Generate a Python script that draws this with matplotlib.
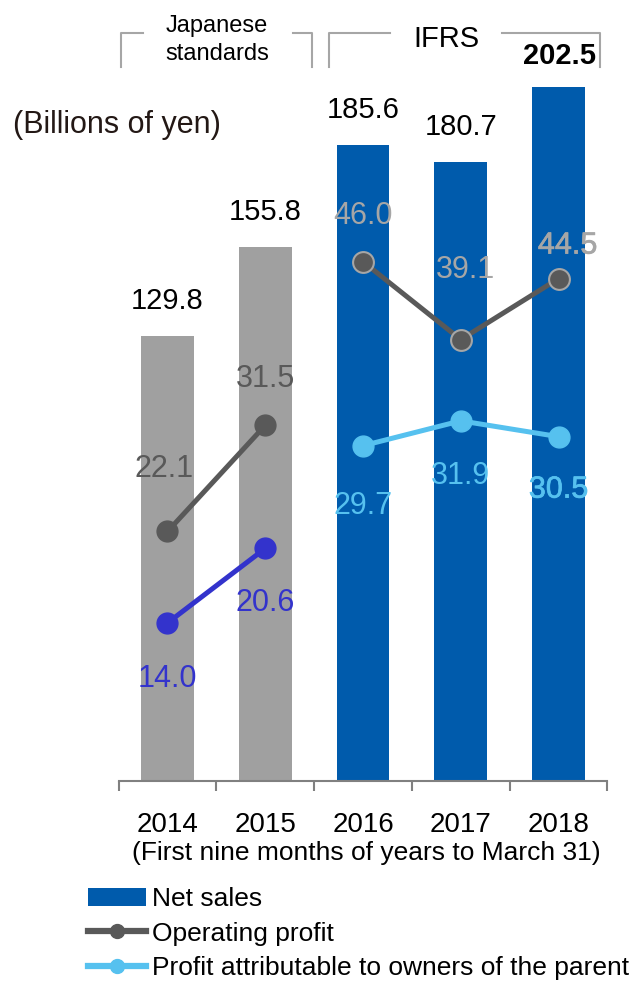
import matplotlib
matplotlib.use('Agg')
import matplotlib.pyplot as plt
import matplotlib.patheffects as pe
from matplotlib.lines import Line2D
from matplotlib.patches import Patch

plt.rcParams['font.family'] = ['Liberation Sans', 'DejaVu Sans']

# Data (billions of yen, first nine months of years to March 31)
years = ['2014', '2015', '2016', '2017', '2018']
net_sales = [129.8, 155.8, 185.6, 180.7, 202.5]
op_profit = [22.1, 31.5, 46.0, 39.1, 44.5]
profit_parent = [14.0, 20.6, 29.7, 31.9, 30.5]

# Colours
gray_bar = '#A0A0A0'
blue_bar = '#005BAC'
op_dark = '#595959'
op_light = '#A6A6A6'
pp_dark = '#3333CC'
pp_light = '#56C1EF'

W, H = 634, 981
fig = plt.figure(figsize=(W / 100, H / 100), dpi=100)

def fx(px):
    return px / W

def fy(py):
    return 1 - py / H

ax = fig.add_axes([fx(118.6), fy(781), 488.8 / W, 781 / H])
ax2 = ax.twinx()
ax.set_xlim(-0.5, 4.5)
ax.set_ylim(0, 781 / 3.427)
ax2.set_ylim(0, 781 / 11.29)

x = list(range(len(years)))
bar_colors = [gray_bar, gray_bar, blue_bar, blue_bar, blue_bar]
ax.bar(x, net_sales, width=0.54, color=bar_colors, zorder=2)

# Net sales labels
for i, v in enumerate(net_sales):
    bold = (i == 4)
    ax.annotate(f'{v:.1f}', (i, v), xytext=(1 if bold else 0, 23 if bold else 27),
                textcoords='offset pixels', ha='center', va='baseline',
                fontsize=21, color='black',
                fontweight='bold' if bold else 'normal')

# Operating profit (Japanese standards / IFRS as separate segments)
ax2.plot(x[:2], op_profit[:2], color=op_dark, lw=3.6, marker='o', ms=15,
         mfc=op_dark, mec=op_dark, zorder=3)
ax2.plot(x[2:], op_profit[2:], color=op_dark, lw=3.6, marker='o', ms=15,
         mfc=op_dark, mec=op_light, mew=1.5, zorder=3)

# Profit attributable to owners of the parent
ax2.plot(x[:2], profit_parent[:2], color=pp_dark, lw=3.6, marker='o', ms=15,
         mfc=pp_dark, mec=pp_dark, zorder=3)
ax2.plot(x[2:], profit_parent[2:], color=pp_light, lw=3.6, marker='o', ms=15,
         mfc=pp_light, mec=pp_light, zorder=3)

op_offsets = [(-3, 54), (0, 38), (0, 38), (5, 62), (9, 25)]
pp_offsets = [(0, -64), (0, -63), (0, -68), (0, -63), (0, -61)]
for i, v in enumerate(op_profit):
    c = op_dark if i < 2 else op_light
    effects = [pe.withStroke(linewidth=0.5, foreground=c)] if i == 4 else None
    ax2.annotate(f'{v:.1f}', (i, v), xytext=op_offsets[i], textcoords='offset pixels',
                 ha='center', va='baseline', fontsize=22, color=c,
                 path_effects=effects, zorder=4)
for i, v in enumerate(profit_parent):
    c = pp_dark if i < 2 else pp_light
    effects = [pe.withStroke(linewidth=0.5, foreground=c)] if i == 4 else None
    ax2.annotate(f'{v:.1f}', (i, v), xytext=pp_offsets[i], textcoords='offset pixels',
                 ha='center', va='baseline', fontsize=22, color=c,
                 path_effects=effects, zorder=4)

# Axes styling
for a in (ax, ax2):
    for s in ('top', 'right', 'left'):
        a.spines[s].set_visible(False)
    a.set_yticks([])
ax2.spines['bottom'].set_visible(False)
ax.spines['bottom'].set_color('#808080')
ax.spines['bottom'].set_linewidth(1.5)
ax.set_xticks(x)
ax.set_xticklabels(years, fontsize=20)
ax.tick_params(axis='x', which='major', length=0, pad=22)
ax.set_xticks([-0.5, 0.5, 1.5, 2.5, 3.5, 4.5], minor=True)
ax.tick_params(axis='x', which='minor', length=7.5, width=1.5, color='#808080')

fig.text(fx(366), fy(860), '(First nine months of years to March 31)',
         ha='center', va='baseline', fontsize=19, color='black')
fig.text(fx(13), fy(133), '(Billions of yen)', ha='left', va='baseline',
         fontsize=22, color='#231815')

# Accounting standard brackets
br = dict(color=op_light, lw=1.5, solid_joinstyle='round')
for xs, ys in [([121, 121, 143], [67, 33, 33]),
               ([293, 312, 312], [33, 33, 67]),
               ([329, 329, 390], [67, 33, 33]),
               ([502, 600, 600], [33, 33, 67])]:
    fig.add_artist(Line2D([fx(v) for v in xs], [fy(v) for v in ys], **br))
fig.text(fx(217), fy(32), 'Japanese', ha='center', va='baseline', fontsize=17)
fig.text(fx(217), fy(60), 'standards', ha='center', va='baseline', fontsize=17)
fig.text(fx(446), fy(47), 'IFRS', ha='center', va='baseline', fontsize=21)

# Legend
handles = [Patch(facecolor=blue_bar, edgecolor='none'),
           Line2D([], [], color=op_dark, lw=4.5, marker='o', ms=10),
           Line2D([], [], color=pp_light, lw=4.5, marker='o', ms=10)]
labels = ['Net sales', 'Operating profit', 'Profit attributable to owners of the parent']
fig.legend(handles, labels, loc='upper left', bbox_to_anchor=(fx(88), fy(887)),
           frameon=False, fontsize=19, handlelength=2.2, handleheight=0.66,
           handletextpad=0.22, labelspacing=0.4, borderpad=0, borderaxespad=0)

fig.savefig('out.png', dpi=100)
